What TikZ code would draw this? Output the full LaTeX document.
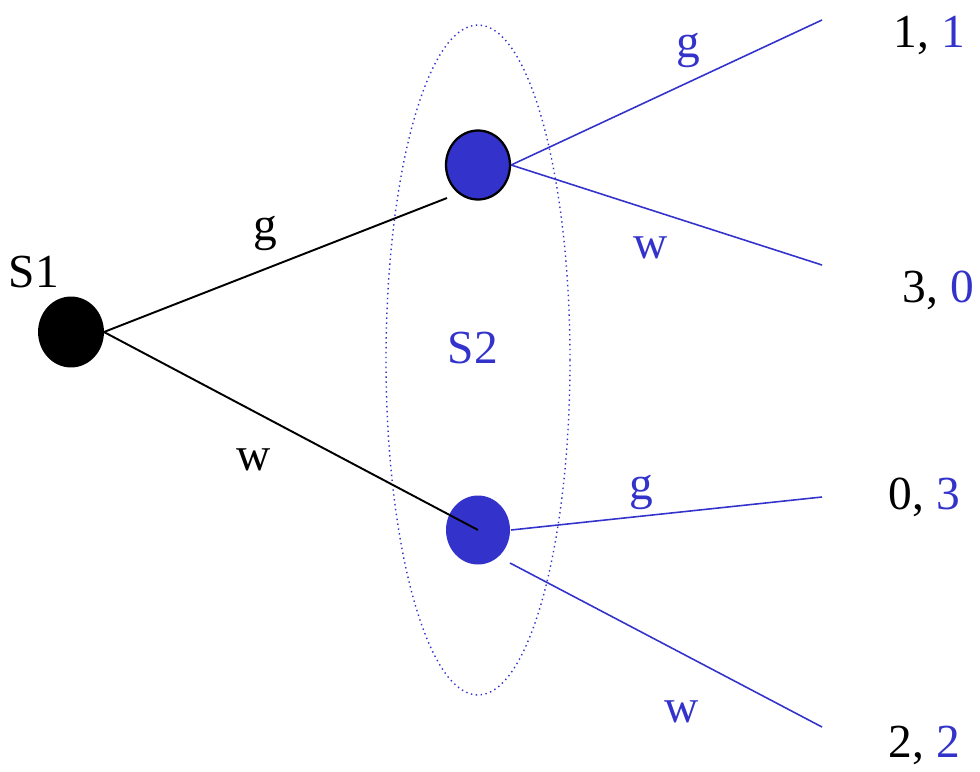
\documentclass[tikz,border=0pt]{standalone}
\usepackage{fontspec}
\setmainfont{Liberation Serif}
\usetikzlibrary{shapes,positioning,calc}
\definecolor{sblue}{RGB}{51,51,204}
\tikzstyle{move} = [draw, ellipse, inner sep=0pt, minimum width=1.28cm, minimum height=1.38cm]
\tikzstyle{payoff} = [anchor=west, inner sep=0pt]
\tikzstyle{lbl} = [inner sep=0pt]

\begin{document}
\begin{tikzpicture}[x=0.02cm, y=-0.02cm, font=\fontsize{27}{32}\selectfont, line width=1.1pt]
    \useasboundingbox (0,0) rectangle (980,771);
    % Information set of player 2
    \draw [sblue, dotted, line width=0.8pt] (478,360) ellipse [x radius=92, y radius=335];
    % Nodes
    \node [move, fill=black] (s1) at (71,332) {};
    \node [move, fill=sblue, line width=1.3pt] (up) at (478,165) {};
    \node [move, fill=sblue, draw=none] (down) at (478,530) {};
    \coordinate (upin) at (447,198);
    \coordinate (downout) at (510,563);
    \coordinate (gg) at (822,20);
    \coordinate (gw) at (822,265);
    \coordinate (wg) at (822,497);
    \coordinate (ww) at (822,727);
    % Labels
    \node [lbl] (s1lbl) at (34,272) {S1};
    \node [lbl, sblue] (s2lbl) at (473,348) {S2};
    \node [payoff] (p1) at (893,35) {1, \textcolor{sblue}{1}};
    \node [payoff] (p2) at (902,290) {3, \textcolor{sblue}{0}};
    \node [payoff] (p3) at (888,497) {0, \textcolor{sblue}{3}};
    \node [payoff] (p4) at (888,745) {2, \textcolor{sblue}{2}};

    % Connections
    \draw (s1.east) -- node [lbl, pos=0.47, above=10pt] {g} (upin);
    \draw (s1.east) -- node [lbl, pos=0.4, below=21pt] {w} (down.center);
    \draw [sblue, line width=0.9pt] (up.east) -- node [lbl, pos=0.57, above=8pt] {g} (gg);
    \draw [sblue, line width=0.9pt] (up.east) -- node [lbl, pos=0.45, below=14.5pt] {w} (gw);
    \draw [sblue, line width=0.9pt] (down.east) -- node [lbl, pos=0.42, above=3pt] {g} (wg);
    \draw [sblue, line width=0.9pt] (downout) -- node [lbl, pos=0.55, below=26.5pt] {w} (ww);
\end{tikzpicture}
\end{document}
